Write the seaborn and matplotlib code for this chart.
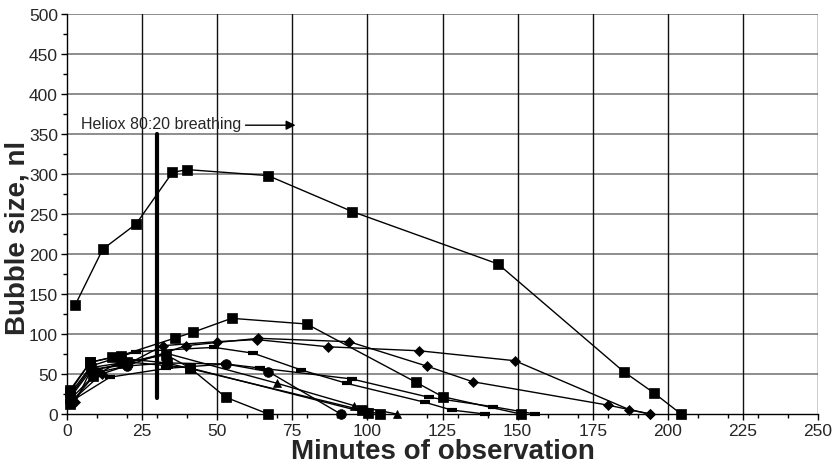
import matplotlib
matplotlib.use("Agg")
import matplotlib.pyplot as plt
import seaborn as sns
from matplotlib.ticker import MultipleLocator

# main bubble (large squares)
s1_x = [2.7, 11.9, 23, 35.1, 40, 66.9, 95, 143.5, 185.3, 195.5, 204.4]
s1_y = [136, 206, 237.5, 302, 305.5, 298, 253, 187.5, 53, 26, 0]

# other square bubbles
s2_x = [1, 7.7, 17.9, 36, 41.8, 54.8, 79.8, 116.2, 125, 151]
s2_y = [30, 64.6, 73, 95, 102, 119.6, 112.5, 39.6, 21.7, 0]
s3_x = [1, 8, 20, 33, 41, 52.9, 67]
s3_y = [22, 58, 65, 74, 57.5, 20.8, 0]
s4_x = [1, 7.7, 14.9, 33.2, 98.1, 104.2]
s4_y = [28, 64.6, 70.8, 63.8, 5, 0]
s5_x = [1, 8.8, 17.9, 41, 100.3]
s5_y = [12.5, 47, 66, 57.5, 1]

# diamonds
d1_x = [1, 11.5, 20.4, 39.6, 63.7, 93.9, 120, 135, 180.2, 194.1]
d1_y = [14.6, 50, 61, 85.4, 94.6, 90.4, 59.6, 40.4, 11, 0]
d2_x = [2.7, 8, 20, 31.9, 49.8, 63.1, 87, 117.3, 149.1, 187.2, 194.1]
d2_y = [14.6, 55, 62, 85.4, 90.4, 93, 84, 79, 66.6, 5.4, 0]

# circles
c1_x = [1, 10, 20, 33.2, 52.9, 67, 91.1]
c1_y = [18, 52, 60, 63.8, 62.5, 53, 0]

# triangles
t1_x = [1, 8, 18, 33, 70, 95.6, 109.7]
t1_y = [20, 55, 62, 76, 38.3, 10.4, 0]

# dash markers
da_x = [1, 8, 23, 48.9, 62, 78, 93.1, 119.2, 128, 139.1]
da_y = [25, 60, 78, 83.3, 76, 55, 38.3, 14.6, 5, 0]
db_x = [1, 14.3, 33, 52.9, 64.2, 94.8, 120.6, 141.7, 155.8]
db_y = [15, 46, 57, 62.5, 57.5, 43.8, 20.8, 9.2, 0]

heliox_start = 30
heliox_range = [20, 350]

sns.set_style("white")
plt.rcParams['font.family'] = ['Liberation Sans', 'DejaVu Sans']

fig = plt.figure(figsize=(8.32, 4.64), dpi=100)
ax = fig.add_axes([67 / 832, 1 - 415 / 464, (818 - 67) / 832, 400 / 464])

ax.set_xlim(0, 250)
ax.set_ylim(0, 500)
ax.xaxis.set_major_locator(MultipleLocator(25))
ax.xaxis.set_minor_locator(MultipleLocator(10))
ax.yaxis.set_major_locator(MultipleLocator(50))
ax.yaxis.set_minor_locator(MultipleLocator(25))

# gridlines: grey horizontal, black vertical
for v in range(50, 501, 50):
    ax.axhline(v, color="#7a7a7a", lw=1.2, zorder=1)
for v in range(25, 251, 25):
    ax.axvline(v, color="#111111", lw=1, zorder=1)

series = [
    (s1_x, s1_y, "s", 7),
    (s2_x, s2_y, "s", 7),
    (s3_x, s3_y, "s", 7),
    (s4_x, s4_y, "s", 7),
    (s5_x, s5_y, "s", 7),
    (d1_x, d1_y, "D", 5),
    (d2_x, d2_y, "D", 5),
    (c1_x, c1_y, "o", 7),
    (t1_x, t1_y, "^", 6),
]
for xs, ys, m, size in series:
    sns.lineplot(x=xs, y=ys, ax=ax, color="black", lw=1, marker=m, ms=size,
                 markeredgecolor="black", markeredgewidth=0.5,
                 sort=False, estimator=None, clip_on=False, zorder=3)

for xs, ys in [(da_x, da_y), (db_x, db_y)]:
    sns.lineplot(x=xs, y=ys, ax=ax, color="black", lw=1, marker="_", ms=7,
                 markeredgecolor="black", markeredgewidth=3,
                 sort=False, estimator=None, clip_on=False, zorder=3)

# heliox marker
ax.plot([heliox_start, heliox_start], heliox_range, color="black", lw=3, zorder=4)
ax.text(4.5, 363, "Heliox 80:20 breathing", fontsize=11.5, va="center", ha="left")
ax.annotate("", xy=(77, 361), xytext=(58.5, 361),
            arrowprops=dict(arrowstyle="-|>", color="black", lw=1,
                            mutation_scale=14))

for side in ["top", "right"]:
    ax.spines[side].set_visible(False)
for side in ["left", "bottom"]:
    ax.spines[side].set_color("black")
    ax.spines[side].set_linewidth(1)

ax.tick_params(axis="both", which="major", direction="out", length=4,
               width=1, color="black", labelsize=12.5, pad=2.5,
               bottom=True, left=True)
ax.tick_params(axis="both", which="minor", direction="out", length=3,
               width=1, color="black", bottom=True, left=True)

ax.set_xlabel("Minutes of observation", fontsize=20, fontweight="bold", labelpad=0)
ax.set_ylabel("Bubble size, nl", fontsize=20, fontweight="bold")
ax.yaxis.set_label_coords(-0.049, 0.4425)

fig.savefig("out.png", dpi=100)
